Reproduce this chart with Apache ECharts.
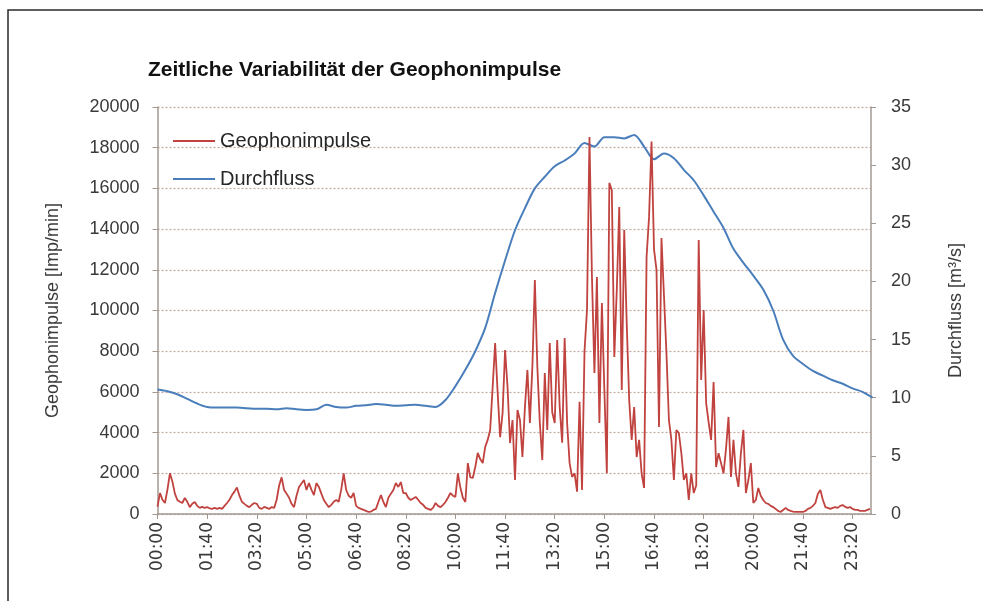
<!DOCTYPE html>
<html>
<head>
<meta charset="utf-8">
<script src="https://cdn.jsdelivr.net/npm/echarts@6/dist/echarts.min.js"></script>
<style>
  html, body { margin: 0; padding: 0; background: #fff; }
  #chart { width: 983px; height: 601px; }
</style>
</head>
<body>
<div id="chart"></div>
<script>
// Geophonimpulse [Imp/min], one value every 5 minutes from 00:00
const impulseStep = 5
const impulses = [
  360, 1030, 700, 540, 1200, 2000, 1600, 1000, 690, 600,
  540, 790, 600, 340, 500, 590, 400, 300, 350, 300,
  340, 280, 250, 300, 250, 300, 250, 400, 540, 700,
  930, 1100, 1300, 900, 600, 500, 400, 340, 450, 540,
  500, 300, 250, 350, 300, 250, 340, 300, 700, 1400,
  1800, 1180, 1000, 800, 500, 340, 900, 1330, 1500, 1670,
  1180, 1520, 1200, 930, 1520, 1330, 1000, 690, 500, 340,
  450, 600, 690, 600, 1200, 2000, 1180, 900, 800, 1030,
  400, 300, 250, 200, 150, 100, 120, 200, 250, 600,
  930, 590, 340, 800, 1000, 1180, 1520, 1330, 1570, 1030,
  1030, 800, 690, 760, 840, 700, 540, 450, 300, 250,
  200, 300, 540, 400, 340, 450, 590, 800, 1030, 900,
  840, 2000, 1300, 800, 590, 2500, 1800, 1770, 2310, 3000,
  2700, 2500, 3300, 3640, 4130, 6240, 8400, 6000, 3780, 4960,
  8060, 6240, 3490, 4620, 1670, 5110, 4620, 2800, 5260, 7080,
  4470, 7230, 11500, 7230, 4470, 2650, 6930, 4130, 8400, 5000,
  4470, 8550, 5260, 3500, 8650, 4470, 2500, 1820, 2000, 1100,
  5520, 1180, 8000, 10020, 18530, 11650, 6930, 11650, 4470, 10370,
  6100, 2000, 16270, 15920, 7720, 11000, 15090, 6100, 13960, 9390,
  5600, 3640, 5260, 2800, 3640, 2000, 1280, 12630, 14600, 18300,
  13000, 12000, 4280, 13560, 10760, 7910, 4620, 3640, 1670, 4130,
  3980, 3000, 1670, 2000, 690, 2000, 1030, 1400, 13460, 6590,
  10020, 5450, 4500, 3640, 6490, 2310, 2990, 2500, 2000, 3200,
  4770, 1820, 3640, 2000, 1330, 3000, 4130, 1030, 1670, 2500,
  540, 690, 1280, 900, 690, 540, 500, 400, 340, 250,
  150, 100, 200, 300, 200, 150, 120, 100, 100, 100,
  100, 150, 250, 300, 400, 540, 1000, 1180, 700, 340,
  300, 250, 300, 340, 300, 400, 440, 350, 300, 340,
  250, 200, 200, 150, 150, 150, 200, 250
]

// Durchfluss [m3/s], one value every 20 minutes from 00:00
const flowStep = 20
const flow = [
  10.7, 10.55, 10.3, 9.9, 9.5, 9.2, 9.15, 9.15, 9.15, 9.1,
  9.05, 9.05, 9.0, 9.1, 9.0, 8.95, 9.0, 9.4, 9.2, 9.15,
  9.3, 9.35, 9.45, 9.4, 9.3, 9.35, 9.4, 9.3, 9.2, 9.8,
  11.0, 12.4, 14.0, 16.0, 19.0, 21.8, 24.4, 26.3, 28.0, 29.0,
  29.9, 30.4, 31.0, 31.9, 31.6, 32.4, 32.4, 32.3, 32.6, 31.6,
  30.5, 31.0, 30.6, 29.6, 28.7, 27.4, 26.0, 24.6, 22.8, 21.6,
  20.5, 19.3, 17.5, 15.0, 13.6, 12.9, 12.3, 11.9, 11.5, 11.2,
  10.8, 10.5, 10.0
]

const seriesNames = ['Geophonimpulse', 'Durchfluss']
const leftTicks = { min: 0, max: 20000, interval: 2000 }
const rightTicks = { min: 0, max: 35, interval: 5 }
const timeTicks = { min: 0, max: 1437, interval: 100 }

function hhmm(min) {
  const h = Math.floor(min / 60)
  const m = Math.round(min % 60)
  return (h < 10 ? '0' + h : h) + ':' + (m < 10 ? '0' + m : m)
}

const chart = echarts.init(document.getElementById('chart'))
const axisColor = '#a39890'
const labelColor = '#3a3a3a'
const font = 'Liberation Sans'

chart.setOption({
  animation: false,
  textStyle: { fontFamily: font },
  title: {
    text: 'Zeitliche Variabilität der Geophonimpulse',
    left: 143,
    top: 55,
    textStyle: { fontFamily: font, fontSize: 21, fontWeight: 'bold', color: '#111' }
  },
  graphic: [{
    type: 'rect',
    shape: { x: 8, y: 10, width: 1000, height: 700 },
    style: { fill: 'none', stroke: '#2a2a2a', lineWidth: 1.5 },
    silent: true
  }],
  legend: {
    orient: 'vertical',
    left: 168,
    top: 126,
    icon: 'rect',
    itemWidth: 42,
    itemHeight: 2,
    itemGap: 18,
    data: seriesNames,
    textStyle: { fontFamily: font, fontSize: 20, color: '#262626' }
  },
  grid: { left: 157.5, right: 112, top: 107, bottom: 87 },
  xAxis: {
    type: 'value',
    min: timeTicks.min,
    max: timeTicks.max,
    interval: timeTicks.interval,
    splitLine: { show: false },
    axisLine: { lineStyle: { color: axisColor, width: 1.5 } },
    axisTick: { show: true, length: 5, lineStyle: { color: axisColor } },
    axisLabel: {
      rotate: 90,
      margin: 8,
      showMaxLabel: false,
      fontFamily: 'DejaVu Sans',
      fontSize: 17,
      color: labelColor,
      formatter: hhmm
    }
  },
  yAxis: [{
    type: 'value',
    min: leftTicks.min,
    max: leftTicks.max,
    interval: leftTicks.interval,
    name: 'Geophonimpulse [Imp/min]',
    nameLocation: 'middle',
    nameRotate: 90,
    nameGap: 95,
    nameTextStyle: { fontFamily: font, fontSize: 18, color: labelColor },
    axisLine: { show: true, lineStyle: { color: axisColor, width: 1.5 } },
    axisTick: { show: true, length: 5, lineStyle: { color: axisColor } },
    axisLabel: {
      margin: 18, fontFamily: font, fontSize: 18, color: labelColor,
      formatter: v => String(v)
    },
    splitLine: { lineStyle: { color: '#c2aaa2', type: [2, 2], width: 1.2 } }
  }, {
    type: 'value',
    min: rightTicks.min,
    max: rightTicks.max,
    interval: rightTicks.interval,
    name: 'Durchfluss [m³/s]',
    nameLocation: 'middle',
    nameRotate: 90,
    nameGap: 76,
    nameTextStyle: { fontFamily: font, fontSize: 18, color: labelColor },
    axisLine: { show: true, lineStyle: { color: axisColor, width: 1.5 } },
    axisTick: { show: true, length: 5, lineStyle: { color: axisColor } },
    axisLabel: {
      margin: 20, fontFamily: font, fontSize: 18, color: labelColor,
      formatter: v => String(v)
    },
    splitLine: { show: false }
  }],
  series: [{
    name: seriesNames[0],
    type: 'line',
    yAxisIndex: 0,
    symbol: 'none',
    lineStyle: { color: '#c0433f', width: 1.8 },
    itemStyle: { color: '#c0433f' },
    data: impulses.map((v, i) => [i * impulseStep, v]),
    z: 3
  }, {
    name: seriesNames[1],
    type: 'line',
    yAxisIndex: 1,
    symbol: 'none',
    smooth: 0.3,
    lineStyle: { color: '#4a7ebb', width: 2 },
    itemStyle: { color: '#4a7ebb' },
    data: flow.map((v, i) => [i * flowStep, v]),
    z: 2
  }]
})
</script>
</body>
</html>
